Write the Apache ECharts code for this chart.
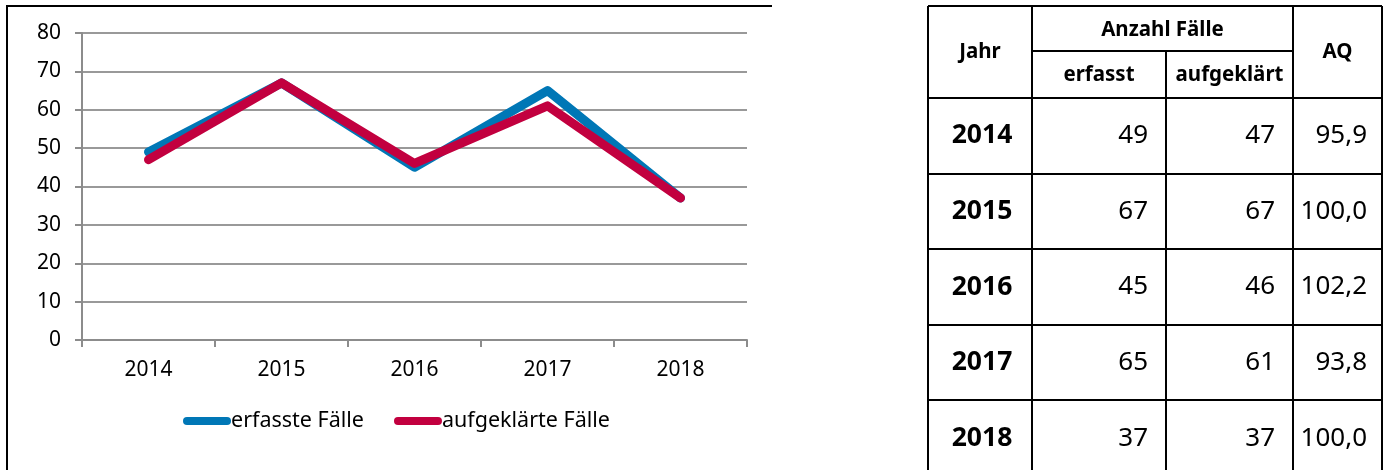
<!DOCTYPE html>
<html>
<head>
<meta charset="utf-8">
<script src="https://cdn.jsdelivr.net/npm/echarts@6/dist/echarts.min.js"></script>
<style>
html,body{margin:0;padding:0;background:#fff;}
#chart{width:1387px;height:470px;}
</style>
</head>
<body>
<div id="chart"></div>
<script>
// ---- data ----
var years = ['2014', '2015', '2016', '2017', '2018'];
var erfasst = [49, 67, 45, 65, 37];
var aufgeklaert = [47, 67, 46, 61, 37];
var aq = [95.9, 100.0, 102.2, 93.8, 100.0];
var seriesNames = ['erfasste Fälle', 'aufgeklärte Fälle'];
var headerTop = 'Anzahl Fälle';
var headerCols = ['Jahr', 'erfasst', 'aufgeklärt', 'AQ'];

// ---- layout ----
var FONT = '"Noto Sans", sans-serif';
var colX = [928, 1032, 1166, 1293, 1382];
var headTop = 6, headMid = 51, headBot = 98, rowH = 75.6;
var LW = 2;

var chart = echarts.init(document.getElementById('chart'), null, {renderer: 'canvas'});

var g = [];
// left frame
g.push({type: 'line', shape: {x1: 7, y1: 6, x2: 772, y2: 6}, style: {stroke: '#000', lineWidth: LW}});
g.push({type: 'line', shape: {x1: 7, y1: 5, x2: 7, y2: 470}, style: {stroke: '#000', lineWidth: LW}});

// table lines
var tableBottom = headBot + rowH * years.length;
g.push({type: 'line', shape: {x1: colX[0], y1: headTop, x2: colX[4], y2: headTop}, style: {stroke: '#000', lineWidth: LW}});
g.push({type: 'line', shape: {x1: colX[1], y1: headMid, x2: colX[3], y2: headMid}, style: {stroke: '#000', lineWidth: LW}});
for (var r = 0; r <= years.length; r++) {
  var yy = Math.round(headBot + r * rowH);
  g.push({type: 'line', shape: {x1: colX[0], y1: yy, x2: colX[4], y2: yy}, style: {stroke: '#000', lineWidth: LW}});
}
for (var c = 0; c < colX.length; c++) {
  var y1 = (c === 2) ? headMid : headTop;
  g.push({type: 'line', shape: {x1: colX[c], y1: y1, x2: colX[c], y2: tableBottom}, style: {stroke: '#000', lineWidth: LW}});
}
function txt(t, x, y, align, size, bold) {
  g.push({type: 'text', x: x, y: y, style: {text: t, fill: '#000', font: (bold ? 'bold ' : '') + size + 'px ' + FONT, align: align, verticalAlign: 'middle'}});
}
// headers
txt(headerCols[0], (colX[0] + colX[1]) / 2, (headTop + headBot) / 2, 'center', 20.5, true);
txt(headerTop, (colX[1] + colX[3]) / 2, (headTop + headMid) / 2 + 2, 'center', 20.5, true);
txt(headerCols[1], (colX[1] + colX[2]) / 2, (headMid + headBot) / 2 + 1, 'center', 20.5, true);
txt(headerCols[2], (colX[2] + colX[3]) / 2, (headMid + headBot) / 2 + 1, 'center', 20.5, true);
txt(headerCols[3], (colX[3] + colX[4]) / 2, (headTop + headBot) / 2, 'center', 20.5, true);
// body
for (var i = 0; i < years.length; i++) {
  var cy = headBot + rowH * (i + 0.5);
  txt(years[i], (colX[0] + colX[1]) / 2 + 2, cy, 'center', 26.5, true);
  txt(String(erfasst[i]), colX[2] - 18, cy, 'right', 26, false);
  txt(String(aufgeklaert[i]), colX[3] - 18, cy, 'right', 26, false);
  txt(aq[i].toFixed(1).replace('.', ','), colX[4] - 15, cy, 'right', 26, false);
}

var legendIcon = 'path://M4,0 L44,0 A4,4 0 0 1 44,8 L4,8 A4,4 0 0 1 4,0 Z';

chart.setOption({
  animation: false,
  textStyle: {fontFamily: FONT},
  grid: {left: 82, top: 33, width: 665, height: 307, containLabel: false},
  legend: {
    data: seriesNames,
    left: 183, top: 410, padding: 0,
    icon: legendIcon,
    itemWidth: 48, itemHeight: 9, itemGap: 30,
    textStyle: {fontSize: 21.5, color: '#000', fontFamily: FONT, padding: [0, 0, 0, -5]}
  },
  xAxis: {
    type: 'category',
    data: years,
    boundaryGap: true,
    axisLine: {show: true, lineStyle: {color: '#8c8c8c', width: 2}},
    axisTick: {show: true, length: 7, lineStyle: {color: '#8c8c8c', width: 2}},
    axisLabel: {fontSize: 21, color: '#000', margin: 20, fontFamily: FONT},
    splitLine: {show: false}
  },
  yAxis: {
    type: 'value',
    min: 0, max: 80, interval: 10,
    axisLine: {show: true, lineStyle: {color: '#8c8c8c', width: 2}},
    axisTick: {show: true, length: 7, lineStyle: {color: '#8c8c8c', width: 2}},
    axisLabel: {fontSize: 21, color: '#000', margin: 21, fontFamily: FONT},
    splitLine: {show: true, lineStyle: {color: '#999999', width: 2}}
  },
  series: [
    {
      name: seriesNames[0], type: 'line', data: erfasst,
      symbol: 'none', color: '#0077B6',
      lineStyle: {width: 9, color: '#0077B6', cap: 'round', join: 'round'}
    },
    {
      name: seriesNames[1], type: 'line', data: aufgeklaert,
      symbol: 'none', color: '#C2003F',
      lineStyle: {width: 9, color: '#C2003F', cap: 'round', join: 'round'}
    }
  ],
  graphic: g
});
</script>
</body>
</html>
